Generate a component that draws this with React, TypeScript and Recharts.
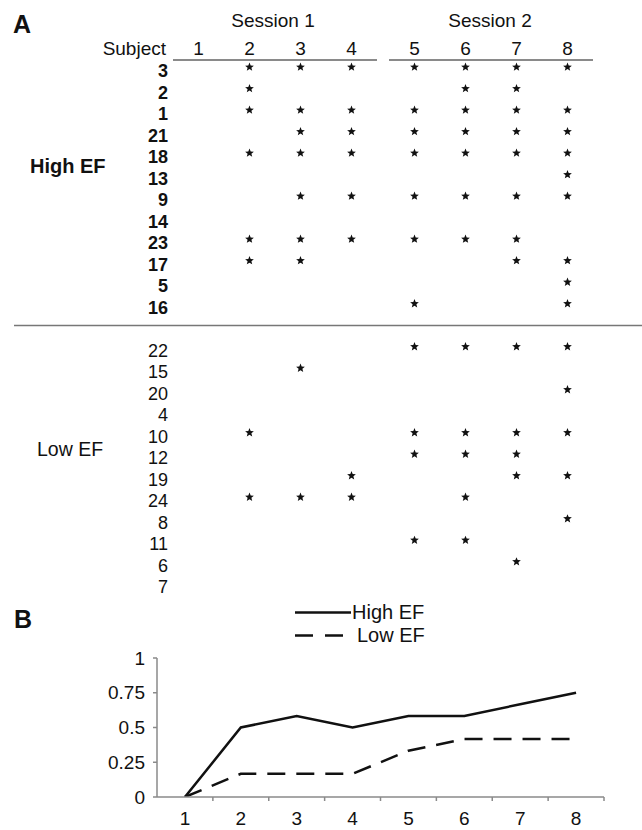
import { ScatterChart, Scatter, LineChart, Line, XAxis, YAxis, Legend } from "recharts"

const FONT = "'Liberation Sans', Arial, Helvetica, sans-serif"
const INK = "#111"
const RULE = "#8a8a8a"

// trials of the two sessions
const SESSION_1_TRIALS = [1, 2, 3, 4]
const SESSION_2_TRIALS = [5, 6, 7, 8]
const TRIALS = [1, 2, 3, 4, 5, 6, 7, 8]

// panel A: subjects in table order, and the trials marked with an asterisk
const HIGH_EF_SUBJECTS = ["3", "2", "1", "21", "18", "13", "9", "14", "23", "17", "5", "16"]
const HIGH_EF_MARKS = [
  [2, 3, 4, 5, 6, 7, 8],
  [2, 6, 7],
  [2, 3, 4, 5, 6, 7, 8],
  [3, 4, 5, 6, 7, 8],
  [2, 3, 4, 5, 6, 7, 8],
  [8],
  [3, 4, 5, 6, 7, 8],
  [],
  [2, 3, 4, 5, 6, 7],
  [2, 3, 7, 8],
  [8],
  [5, 8],
]
const LOW_EF_SUBJECTS = ["22", "15", "20", "4", "10", "12", "19", "24", "8", "11", "6", "7"]
const LOW_EF_MARKS = [
  [5, 6, 7, 8],
  [3],
  [8],
  [],
  [2, 5, 6, 7, 8],
  [5, 6, 7],
  [4, 7, 8],
  [2, 3, 4, 6],
  [8],
  [5, 6],
  [7],
  [],
]

// panel B: proportion of subjects per trial
const HIGH_EF_PROPORTION = [0, 0.5, 0.583, 0.5, 0.583, 0.583, 0.667, 0.75]
const LOW_EF_PROPORTION = [0, 0.167, 0.167, 0.167, 0.333, 0.417, 0.417, 0.417]
const PROPORTION_TICKS = [0, 0.25, 0.5, 0.75, 1]

// table rows: high EF group, a blank row, low EF group
const ROW_LABELS = [...HIGH_EF_SUBJECTS, "", ...LOW_EF_SUBJECTS]
const LOW_START = HIGH_EF_SUBJECTS.length + 1
const ROW_TICKS = ROW_LABELS.map((_, i) => i).filter((i) => ROW_LABELS[i] !== "")
const ROW_DOMAIN = [-0.33, ROW_LABELS.length - 0.5]

const marks = [
  ...HIGH_EF_MARKS.flatMap((trials, i) => trials.map((trial) => ({ trial, row: i }))),
  ...LOW_EF_MARKS.flatMap((trials, i) => trials.map((trial) => ({ trial, row: LOW_START + i }))),
]
const session1Marks = marks.filter((m) => SESSION_1_TRIALS.includes(m.trial))
const session2Marks = marks.filter((m) => SESSION_2_TRIALS.includes(m.trial))

const lineData = TRIALS.map((trial, i) => ({
  trial,
  high: HIGH_EF_PROPORTION[i],
  low: LOW_EF_PROPORTION[i],
}))

const TABLE_MARGIN = { top: 30, right: 0, bottom: 6, left: 0 }
const B_LEFT = 157
const B_RIGHT = 604
const HALF_STEP = (B_RIGHT - B_LEFT) / 16

function Asterisk({ cx, cy }: any) {
  if (cx == null || cy == null) return null
  const pts: string[] = []
  for (let k = 0; k < 10; k++) {
    const r = k % 2 === 0 ? 4.6 : 2
    const a = -Math.PI / 2 + (k * Math.PI) / 5
    pts.push(`${cx + r * Math.cos(a)},${cy + r * Math.sin(a)}`)
  }
  return <polygon points={pts.join(" ")} fill={INK} />
}

function RowTick({ x, y, payload }: any) {
  const i = payload.value
  return (
    <text
      x={x}
      y={y + 4}
      textAnchor="end"
      dominantBaseline="central"
      fontFamily={FONT}
      fontSize={18}
      fontWeight={i < LOW_START ? 700 : 400}
      fill={INK}
    >
      {ROW_LABELS[i]}
    </text>
  )
}

function TrialTick({ x, y, payload }: any) {
  return (
    <g>
      <line x1={x + HALF_STEP} x2={x + HALF_STEP} y1={y} y2={y + 4} stroke={RULE} strokeWidth={1.5} />
      <text x={x} y={y + 28} textAnchor="middle" fontFamily={FONT} fontSize={19} fill={INK}>
        {payload.value}
      </text>
    </g>
  )
}

function EfLegend() {
  const row = { display: "flex", alignItems: "center", height: 23 } as const
  return (
    <div style={{ height: 57, paddingLeft: 295, fontFamily: FONT, fontSize: 20, color: INK }}>
      <div style={row}>
        <svg width={57} height={23}>
          <line x1={0} x2={56} y1={11.5} y2={11.5} stroke={INK} strokeWidth={2.5} />
        </svg>
        <span>High EF</span>
      </div>
      <div style={row}>
        <svg width={62} height={23}>
          <line x1={0} x2={48} y1={11.5} y2={11.5} stroke={INK} strokeWidth={2.5} strokeDasharray="18 12" />
        </svg>
        <span>Low EF</span>
      </div>
    </div>
  )
}

function SessionTable({ trials, data, withRows, width }: any) {
  return (
    <ScatterChart width={width} height={600} margin={TABLE_MARGIN}>
      <XAxis
        type="number"
        dataKey="trial"
        orientation="top"
        domain={[trials[0] - 0.5, trials[trials.length - 1] + 0.5]}
        ticks={trials}
        interval={0}
        allowDataOverflow
        height={30}
        tickLine={false}
        tickSize={0}
        tickMargin={5}
        axisLine={{ stroke: RULE, strokeWidth: 2 }}
        tick={{ fontSize: 19, fill: INK, fontFamily: FONT }}
      />
      <YAxis
        type="number"
        dataKey="row"
        domain={ROW_DOMAIN}
        reversed
        allowDataOverflow
        ticks={ROW_TICKS}
        interval={0}
        hide={!withRows}
        width={withRows ? 173 : 0}
        axisLine={false}
        tickLine={false}
        tickSize={0}
        tickMargin={5}
        tick={<RowTick />}
      />
      <Scatter data={data} shape={<Asterisk />} isAnimationActive={false} />
    </ScatterChart>
  )
}

export default function App() {
  return (
    <div style={{ position: "absolute", left: 0, top: 0, width: 642, height: 830, background: "#fff" }}>
      <div style={{ position: "absolute", left: 0, top: 0 }}>
        <SessionTable trials={SESSION_1_TRIALS} data={session1Marks} withRows width={377} />
      </div>
      <div style={{ position: "absolute", left: 389, top: 0 }}>
        <SessionTable trials={SESSION_2_TRIALS} data={session2Marks} withRows={false} width={204} />
      </div>
      <div style={{ position: "absolute", left: 0, top: 600 }}>
        <LineChart width={642} height={230} data={lineData} margin={{ top: 1, right: 642 - B_RIGHT, bottom: 0, left: 0 }}>
          <Legend
            verticalAlign="top"
            content={<EfLegend />}
            wrapperStyle={{ left: 0, top: 1, width: 642, height: 57 }}
          />
          <XAxis
            type="number"
            dataKey="trial"
            domain={[0.5, 8.5]}
            ticks={TRIALS}
            interval={0}
            allowDataOverflow
            height={33}
            tickLine={false}
            tickSize={0}
            tickMargin={0}
            axisLine={{ stroke: RULE, strokeWidth: 1.5 }}
            tick={<TrialTick />}
          />
          <YAxis
            type="number"
            domain={[0, 1]}
            ticks={PROPORTION_TICKS}
            interval={0}
            allowDataOverflow
            width={B_LEFT}
            tickSize={4}
            tickMargin={8}
            tickLine={{ stroke: RULE, strokeWidth: 1.5 }}
            axisLine={{ stroke: RULE, strokeWidth: 1.5 }}
            tick={{ fontSize: 19, fill: INK, fontFamily: FONT }}
          />
          <Line dataKey="high" stroke={INK} strokeWidth={2.5} dot={false} isAnimationActive={false} />
          <Line
            dataKey="low"
            stroke={INK}
            strokeWidth={2.5}
            strokeDasharray="18 11"
            dot={false}
            isAnimationActive={false}
          />
        </LineChart>
      </div>
      <svg
        width={642}
        height={830}
        style={{ position: "absolute", left: 0, top: 0, pointerEvents: "none" }}
        fontFamily={FONT}
        fill={INK}
      >
        <text x={13} y={33} fontSize={25} fontWeight={700}>A</text>
        <text x={14} y={628} fontSize={25} fontWeight={700}>B</text>
        <text x={273} y={27} fontSize={19} textAnchor="middle">Session 1</text>
        <text x={490} y={27} fontSize={19} textAnchor="middle">Session 2</text>
        <text x={166} y={55} fontSize={19} textAnchor="end">Subject</text>
        <text x={30} y={173} fontSize={20} fontWeight={700}>High EF</text>
        <text x={37} y={456} fontSize={19.5}>Low EF</text>
        <line x1={14} x2={642} y1={325.5} y2={325.5} stroke="#777" strokeWidth={1.5} />
      </svg>
    </div>
  )
}
